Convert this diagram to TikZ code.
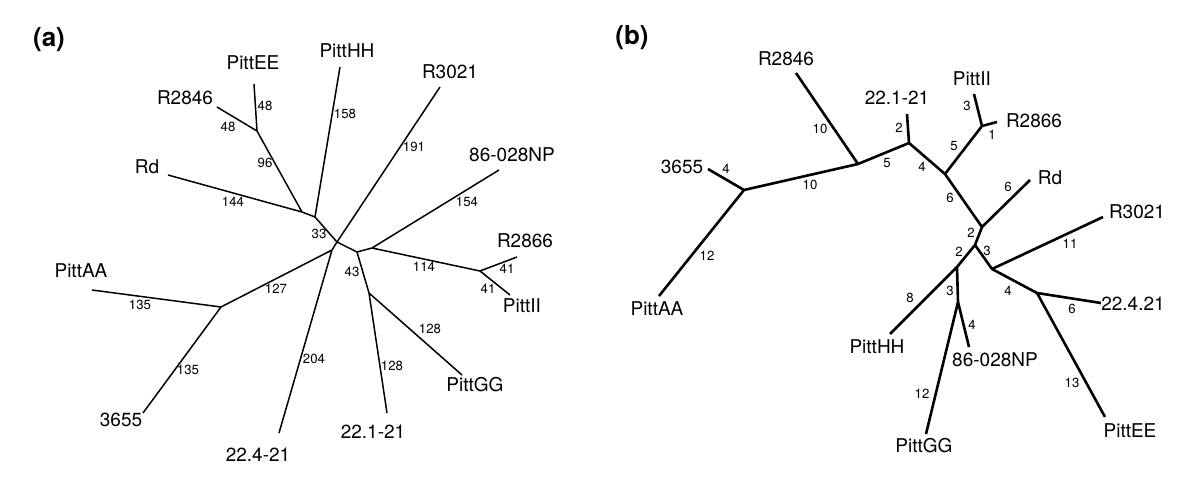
\documentclass[tikz,border=0pt]{standalone}
\usepackage{fontspec}
\setmainfont{TeX Gyre Heros}
\usetikzlibrary{positioning}

\begin{document}
\begin{tikzpicture}
    [x=0.5pt, y=-0.5pt,
    taxon/.style={inner sep=0pt, font=\fontsize{9.5}{10}\selectfont},
    blen/.style={inner sep=0pt, font=\fontsize{6.6}{7}\selectfont},
    panel/.style={inner sep=0pt, font=\fontsize{13}{14}\selectfont\bfseries},
    treea/.style={line width=0.75pt},
    treeb/.style={line width=1.3pt}]

    \useasboundingbox (0,0) rectangle (1200,482);

    %% ---------------- (a) ----------------
    \node[panel] (pa) at (49,40) {(a)};

    % internal nodes
    \coordinate (a1) at (302,212);
    \coordinate (a2) at (315,217);
    \coordinate (a3) at (337,242);
    \coordinate (a4) at (332,250);
    \coordinate (a5) at (357,252);
    \coordinate (a6) at (372,248);
    \coordinate (a7) at (369,293);
    \coordinate (a8) at (221,307);
    \coordinate (a9) at (257,131);
    \coordinate (a10) at (480,271);

    % tips
    \coordinate (aPittEE) at (254,84);
    \coordinate (aR2846) at (217,107);
    \coordinate (aRd) at (168,175);
    \coordinate (aPittHH) at (340,67);
    \coordinate (aR3021) at (440,87);
    \coordinate (aNP) at (499,170);
    \coordinate (aR2866) at (517,257);
    \coordinate (aPittII) at (510,295);
    \coordinate (aPittGG) at (462,375);
    \coordinate (aOne) at (387,413);
    \coordinate (aFour) at (279,433);
    \coordinate (a3655) at (143,413);
    \coordinate (aPittAA) at (92,290);

    \draw[treea] (a9) -- (aPittEE) (a9) -- (aR2846) (a9) -- (a1)
        (a1) -- (aRd) (a1) -- (a2) (a2) -- (aPittHH) (a2) -- (a3)
        (a3) -- (aR3021) (a3) -- (a4) (a3) -- (a5)
        (a4) -- (aFour) (a4) -- (a8) (a8) -- (aPittAA) (a8) -- (a3655)
        (a5) -- (a6) (a5) -- (a7) (a6) -- (aNP) (a6) -- (a10)
        (a10) -- (aR2866) (a10) -- (aPittII)
        (a7) -- (aPittGG) (a7) -- (aOne);

    \node[taxon] (tPittEE) at (253,63) {PittEE};
    \node[taxon] (tR2846) at (185,98) {R2846};
    \node[taxon] (tRd) at (147,167) {Rd};
    \node[taxon] (tPittHH) at (347,51) {PittHH};
    \node[taxon] (tR3021) at (450,72) {R3021};
    \node[taxon] (tNP) at (512,155) {86-028NP};
    \node[taxon] (tR2866) at (525,241) {R2866};
    \node[taxon] (tPittII) at (522,306) {PittII};
    \node[taxon] (tPittGG) at (475,385) {PittGG};
    \node[taxon] (tOne) at (373,432) {22.1-21};
    \node[taxon] (tFour) at (258,455) {22.4-21};
    \node[taxon] (t3655) at (121,420) {3655};
    \node[taxon] (tPittAA) at (81,271) {PittAA};

    % branch lengths
    \node[blen] (n1) at (265,106) {48};
    \node[blen] (n2) at (228,127) {48};
    \node[blen] (n3) at (265,163) {96};
    \node[blen] (n4) at (233,202) {144};
    \node[blen] (n5) at (345,114) {158};
    \node[blen] (n6) at (414,147) {191};
    \node[blen] (n7) at (467,202) {154};
    \node[blen] (n8) at (319,234) {33};
    \node[blen] (n9) at (352,272) {43};
    \node[blen] (n10) at (424,267) {114};
    \node[blen] (n11) at (507,269) {41};
    \node[blen] (n12) at (488,289) {41};
    \node[blen] (n13) at (430,329) {128};
    \node[blen] (n14) at (392,366) {128};
    \node[blen] (n15) at (314,359) {204};
    \node[blen] (n16) at (276,289) {127};
    \node[blen] (n17) at (140,305) {135};
    \node[blen] (n18) at (188,370) {135};

    %% ---------------- (b) ----------------
    \node[panel] (pb) at (632,38) {(b)};

    % internal nodes
    \coordinate (b1) at (858,164);
    \coordinate (b2) at (909,143);
    \coordinate (b3) at (744,190);
    \coordinate (b4) at (945,174);
    \coordinate (b5) at (982,126);
    \coordinate (b6) at (982,227);
    \coordinate (b7) at (975,245);
    \coordinate (b8) at (957,267);
    \coordinate (b9) at (992,269);
    \coordinate (b10) at (1037,293);
    \coordinate (b11) at (958,302);

    % tips
    \coordinate (bR2846) at (796,73);
    \coordinate (bOne) at (907,114);
    \coordinate (b3655) at (708,169);
    \coordinate (bPittAA) at (659,296);
    \coordinate (bPittII) at (974,94);
    \coordinate (bR2866) at (997,122);
    \coordinate (bRd) at (1030,180);
    \coordinate (bR3021) at (1103,217);
    \coordinate (bFour) at (1101,303);
    \coordinate (bPittEE) at (1105,417);
    \coordinate (bPittHH) at (890,334);
    \coordinate (bNP) at (969,347);
    \coordinate (bPittGG) at (926,434);

    \draw[treeb] (b1) -- (bR2846) (b1) -- (b2) (b1) -- (b3)
        (b3) -- (b3655) (b3) -- (bPittAA)
        (b2) -- (bOne) (b2) -- (b4) (b4) -- (b5)
        (b5) -- (bPittII) (b5) -- (bR2866)
        (b4) -- (b6) (b6) -- (bRd) (b6) -- (b7)
        (b7) -- (b8) (b7) -- (b9) (b9) -- (bR3021) (b9) -- (b10)
        (b10) -- (bFour) (b10) -- (bPittEE)
        (b8) -- (bPittHH) (b8) -- (b11)
        (b11) -- (bNP) (b11) -- (bPittGG);

    \node[taxon] (sR2846) at (786,59) {R2846};
    \node[taxon] (sOne) at (897,98) {22.1-21};
    \node[taxon] (s3655) at (682,167) {3655};
    \node[taxon] (sPittAA) at (657,309) {PittAA};
    \node[taxon] (sPittII) at (972,79) {PittII};
    \node[taxon] (sR2866) at (1034,121) {R2866};
    \node[taxon] (sRd) at (1050,178) {Rd};
    \node[taxon] (sR3021) at (1137,212) {R3021};
    \node[taxon] (sFour) at (1133,304) {22.4.21};
    \node[taxon] (sPittEE) at (1130,431) {PittEE};
    \node[taxon] (sPittHH) at (877,347) {PittHH};
    \node[taxon] (sNP) at (995,360) {86-028NP};
    \node[taxon] (sPittGG) at (924,446) {PittGG};

    % branch lengths
    \node[blen] (m1) at (820,129) {10};
    \node[blen] (m2) at (726,169) {4};
    \node[blen] (m3) at (810,185) {10};
    \node[blen] (m4) at (887,163) {5};
    \node[blen] (m5) at (707,256) {12};
    \node[blen] (m6) at (899,128) {2};
    \node[blen] (m7) at (922,167) {4};
    \node[blen] (m8) at (967,106) {3};
    \node[blen] (m9) at (954,146) {5};
    \node[blen] (m10) at (992,135) {1};
    \node[blen] (m11) at (950,198) {6};
    \node[blen] (m12) at (1008,187) {6};
    \node[blen] (m13) at (971,233) {2};
    \node[blen] (m14) at (959,252) {2};
    \node[blen] (m15) at (987,251) {3};
    \node[blen] (m16) at (1070,244) {11};
    \node[blen] (m17) at (910,298) {8};
    \node[blen] (m18) at (950,291) {3};
    \node[blen] (m19) at (1008,291) {4};
    \node[blen] (m20) at (972,325) {4};
    \node[blen] (m21) at (1072,309) {6};
    \node[blen] (m22) at (1072,383) {13};
    \node[blen] (m23) at (922,394) {12};
\end{tikzpicture}
\end{document}
